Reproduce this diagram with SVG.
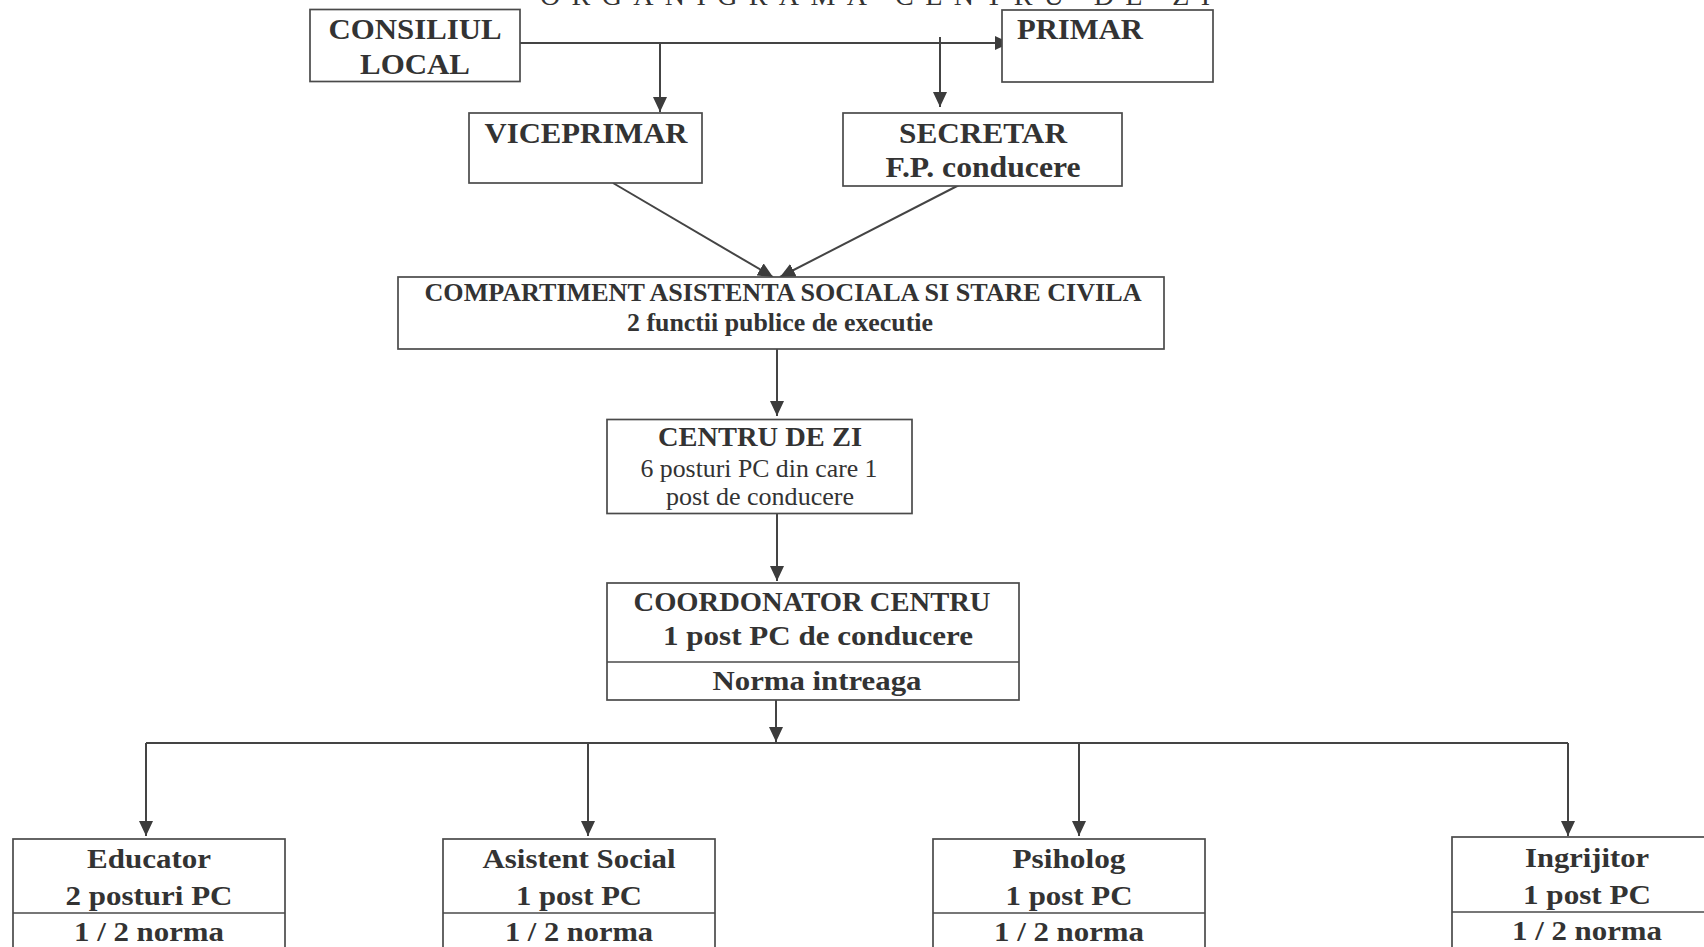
<svg xmlns="http://www.w3.org/2000/svg" width="1704" height="947" viewBox="0 0 1704 947">
<style>
.box{fill:#ffffff;stroke:#4a4a4a;stroke-width:1.7}
.div{stroke:#4a4a4a;stroke-width:1.7}
.con{fill:none;stroke:#444444;stroke-width:2}
.t{font-family:"Liberation Serif","Times New Roman",serif;fill:#333333;text-anchor:middle}
.b{font-weight:bold}
</style>
<defs>
<marker id="arr" markerUnits="userSpaceOnUse" markerWidth="16" markerHeight="14" refX="15" refY="7" orient="auto">
<path d="M0,0 L15,7 L0,14 z" fill="#3c3c3c"/>
</marker>
</defs>
<rect width="1704" height="947" fill="#ffffff"/>
<text class="t" x="540" y="5" style="text-anchor:start" font-size="28" textLength="670" lengthAdjust="spacing">ORGANIGRAMA CENTRU DE ZI</text>
<g id="connectors">
<path class="con" d="M520,43 L1010,43" marker-end="url(#arr)"/>
<path class="con" d="M660,43 L660,112" marker-end="url(#arr)"/>
<path class="con" d="M940,37 L940,107" marker-end="url(#arr)"/>
<path class="con" d="M613,183 L773,277" marker-end="url(#arr)"/>
<path class="con" d="M963,183 L780,277" marker-end="url(#arr)"/>
<path class="con" d="M777,349 L777,416" marker-end="url(#arr)"/>
<path class="con" d="M777,513 L777,581" marker-end="url(#arr)"/>
<path class="con" d="M776,700 L776,742" marker-end="url(#arr)"/>
<path class="con" d="M146,743 L1568,743"/>
<path class="con" d="M146,743 L146,836" marker-end="url(#arr)"/>
<path class="con" d="M588,743 L588,836" marker-end="url(#arr)"/>
<path class="con" d="M1079,743 L1079,836" marker-end="url(#arr)"/>
<path class="con" d="M1568,743 L1568,836" marker-end="url(#arr)"/>
</g>
<g id="consiliul">
<rect class="box" x="310" y="9.5" width="210" height="72"/>
<text class="t b" x="415" y="39" font-size="30" textLength="173" lengthAdjust="spacingAndGlyphs">CONSILIUL</text>
<text class="t b" x="415" y="74" font-size="30" textLength="110" lengthAdjust="spacingAndGlyphs">LOCAL</text>
</g>
<g id="primar">
<rect class="box" x="1002" y="10" width="211" height="72"/>
<text class="t b" x="1017" y="39" style="text-anchor:start" font-size="30" textLength="126" lengthAdjust="spacingAndGlyphs">PRIMAR</text>
</g>
<g id="viceprimar">
<rect class="box" x="469" y="113" width="233" height="70"/>
<text class="t b" x="586" y="143" font-size="30" textLength="203" lengthAdjust="spacingAndGlyphs">VICEPRIMAR</text>
</g>
<g id="secretar">
<rect class="box" x="843" y="113" width="279" height="73"/>
<text class="t b" x="983" y="143" font-size="30" textLength="168" lengthAdjust="spacingAndGlyphs">SECRETAR</text>
<text class="t b" x="983" y="177" font-size="30" textLength="195" lengthAdjust="spacingAndGlyphs">F.P. conducere</text>
</g>
<g id="compartiment">
<rect class="box" x="398" y="277" width="766" height="72"/>
<text class="t b" x="783" y="301" font-size="25" textLength="717" lengthAdjust="spacingAndGlyphs">COMPARTIMENT ASISTENTA SOCIALA SI STARE CIVILA</text>
<text class="t b" x="780" y="331" font-size="25" textLength="306" lengthAdjust="spacingAndGlyphs">2 functii publice de executie</text>
</g>
<g id="centru">
<rect class="box" x="607" y="419.5" width="305" height="94"/>
<text class="t b" x="760" y="446" font-size="27" textLength="204" lengthAdjust="spacingAndGlyphs">CENTRU DE ZI</text>
<text class="t" x="759" y="477" font-size="25" textLength="237" lengthAdjust="spacingAndGlyphs">6 posturi PC din care 1</text>
<text class="t" x="760" y="505" font-size="25" textLength="188" lengthAdjust="spacingAndGlyphs">post de conducere</text>
</g>
<g id="coordonator">
<rect class="box" x="607" y="583" width="412" height="117"/>
<line class="div" x1="607" y1="662" x2="1019" y2="662"/>
<text class="t b" x="812" y="611" font-size="28" textLength="357" lengthAdjust="spacingAndGlyphs">COORDONATOR CENTRU</text>
<text class="t b" x="818" y="645" font-size="28" textLength="310" lengthAdjust="spacingAndGlyphs">1 post PC de conducere</text>
<text class="t b" x="817" y="690" font-size="27" textLength="209" lengthAdjust="spacingAndGlyphs">Norma intreaga</text>
</g>
<g id="educator">
<rect class="box" x="13" y="839" width="272" height="130"/>
<line class="div" x1="13" y1="913" x2="285" y2="913"/>
<text class="t b" x="149" y="868" font-size="28" textLength="124" lengthAdjust="spacingAndGlyphs">Educator</text>
<text class="t b" x="149" y="905" font-size="28" textLength="167" lengthAdjust="spacingAndGlyphs">2 posturi PC</text>
<text class="t b" x="149" y="941" font-size="28" textLength="150" lengthAdjust="spacingAndGlyphs">1 / 2 norma</text>
</g>
<g id="asistent">
<rect class="box" x="443" y="839" width="272" height="130"/>
<line class="div" x1="443" y1="913" x2="715" y2="913"/>
<text class="t b" x="579" y="868" font-size="28" textLength="193" lengthAdjust="spacingAndGlyphs">Asistent Social</text>
<text class="t b" x="579" y="905" font-size="28" textLength="126" lengthAdjust="spacingAndGlyphs">1 post PC</text>
<text class="t b" x="579" y="941" font-size="28" textLength="148" lengthAdjust="spacingAndGlyphs">1 / 2 norma</text>
</g>
<g id="psiholog">
<rect class="box" x="933" y="839" width="272" height="130"/>
<line class="div" x1="933" y1="913" x2="1205" y2="913"/>
<text class="t b" x="1069" y="868" font-size="28" textLength="113" lengthAdjust="spacingAndGlyphs">Psiholog</text>
<text class="t b" x="1069" y="905" font-size="28" textLength="127" lengthAdjust="spacingAndGlyphs">1 post PC</text>
<text class="t b" x="1069" y="941" font-size="28" textLength="150" lengthAdjust="spacingAndGlyphs">1 / 2 norma</text>
</g>
<g id="ingrijitor">
<rect class="box" x="1452" y="837" width="272" height="130"/>
<line class="div" x1="1452" y1="912" x2="1724" y2="912"/>
<text class="t b" x="1587" y="867" font-size="28" textLength="124" lengthAdjust="spacingAndGlyphs">Ingrijitor</text>
<text class="t b" x="1587" y="904" font-size="28" textLength="128" lengthAdjust="spacingAndGlyphs">1 post PC</text>
<text class="t b" x="1587" y="940" font-size="28" textLength="150" lengthAdjust="spacingAndGlyphs">1 / 2 norma</text>
</g>
</svg>
